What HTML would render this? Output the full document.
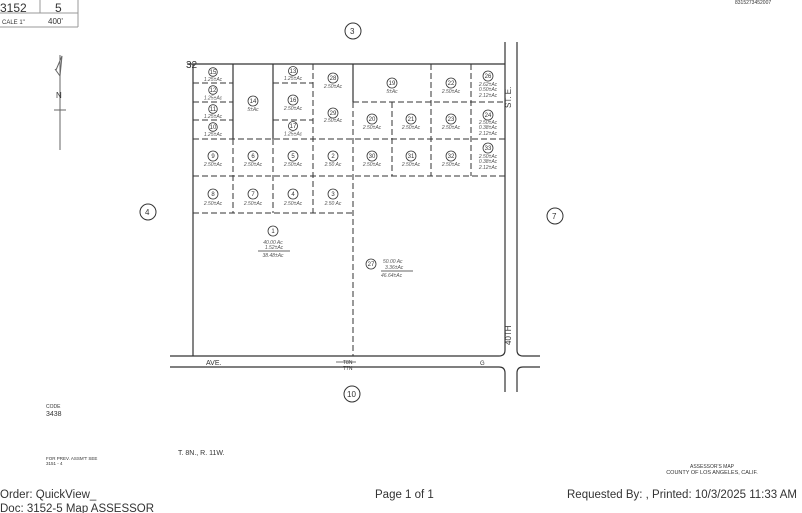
<!DOCTYPE html>
<html><head><meta charset="utf-8"><style>
html,body{margin:0;padding:0;background:#fff;}
svg{display:block}
text{font-family:"Liberation Sans",sans-serif;fill:#333}
.s{font-size:5px;font-style:italic;fill:#555}
.n{font-size:6px;fill:#333}
</style></head><body>
<svg width="802" height="513" viewBox="0 0 802 513" xmlns="http://www.w3.org/2000/svg">
<g stroke="#999" stroke-width="1" fill="none">
<line x1="0" y1="13" x2="78" y2="13"/><line x1="40" y1="0" x2="40" y2="13"/><line x1="78" y1="0" x2="78" y2="27"/>
<line x1="0" y1="27" x2="78" y2="27"/>
</g>
<text x="0" y="12" font-size="12" fill="#222">3152</text>
<text x="55" y="12" font-size="12" fill="#222">5</text>
<text x="2" y="24" font-size="6" fill="#aaa">CALE 1"</text>
<text x="48" y="24" font-size="8" fill="#444">400'</text>
<text x="735" y="4" font-size="5" fill="#bbb">8315273452007</text>

<g stroke="#666" stroke-width="1" fill="none">
<line x1="60" y1="55" x2="60" y2="150"/>
<line x1="54" y1="110" x2="66" y2="110"/>
<polyline points="56,70 62,56 60,76 55,69"/>
</g>
<text x="56" y="98" font-size="8" fill="#444">N</text>

<g stroke="#333" stroke-width="1" fill="#fff">
<circle cx="353" cy="31" r="8"/><circle cx="148" cy="212" r="8"/><circle cx="555" cy="216" r="8"/><circle cx="352" cy="394" r="8"/>
</g>
<text x="350" y="34" font-size="8">3</text>
<text x="145" y="215" font-size="8">4</text>
<text x="552" y="219" font-size="8">7</text>
<text x="347" y="397" font-size="8">10</text>

<g stroke="#333" stroke-width="1.2" fill="none">
<line x1="187" y1="64" x2="505" y2="64"/>
<line x1="193" y1="64" x2="193" y2="356"/>
<line x1="505" y1="42" x2="505" y2="350"/>
<line x1="517" y1="42" x2="517" y2="350"/>
<path d="M170,356 H499 Q505,356 505,350"/>
<path d="M170,367 H499 Q505,367 505,373 V392"/>
<path d="M517,350 Q517,356 523,356 H540"/>
<path d="M517,392 V373 Q517,367 523,367 H540"/>
<line x1="233" y1="64" x2="233" y2="139"/>
<line x1="273" y1="64" x2="273" y2="139"/>
<line x1="353" y1="64" x2="353" y2="102"/>
</g>
<g stroke="#333" stroke-width="1" fill="none" stroke-dasharray="6,3">
<line x1="193" y1="83" x2="233" y2="83"/>
<line x1="193" y1="102" x2="233" y2="102"/>
<line x1="193" y1="120" x2="233" y2="120"/>
<line x1="273" y1="83" x2="313" y2="83"/>
<line x1="273" y1="120" x2="313" y2="120"/>
<line x1="353" y1="102" x2="505" y2="102"/>
<line x1="193" y1="139" x2="505" y2="139"/>
<line x1="193" y1="176" x2="505" y2="176"/>
<line x1="193" y1="213" x2="353" y2="213"/>
<line x1="313" y1="64" x2="313" y2="213"/>
<line x1="233" y1="139" x2="233" y2="213"/>
<line x1="273" y1="139" x2="273" y2="213"/>
<line x1="353" y1="102" x2="353" y2="356"/>
<line x1="392" y1="102" x2="392" y2="176"/>
<line x1="431" y1="64" x2="431" y2="176"/>
<line x1="471" y1="64" x2="471" y2="176"/>
</g>
<text x="186" y="68" font-size="10" fill="#333">32</text>

<g stroke="#333" stroke-width="0.8" fill="none">
<circle cx="213" cy="72" r="4.3"/><circle cx="213" cy="90" r="4.3"/><circle cx="213" cy="109" r="4.3"/><circle cx="213" cy="127" r="4.3"/>
<circle cx="253" cy="101" r="5"/>
<circle cx="293" cy="71" r="4.5"/><circle cx="293" cy="100" r="5"/><circle cx="293" cy="126" r="4.5"/>
<circle cx="333" cy="78" r="5"/><circle cx="333" cy="113" r="5"/>
<circle cx="392" cy="83" r="5"/><circle cx="451" cy="83" r="5"/><circle cx="488" cy="76" r="5"/>
<circle cx="372" cy="119" r="5"/><circle cx="411" cy="119" r="5"/><circle cx="451" cy="119" r="5"/><circle cx="488" cy="115" r="5"/>
<circle cx="213" cy="156" r="5"/><circle cx="253" cy="156" r="5"/><circle cx="293" cy="156" r="5"/><circle cx="333" cy="156" r="5"/>
<circle cx="372" cy="156" r="5"/><circle cx="411" cy="156" r="5"/><circle cx="451" cy="156" r="5"/><circle cx="488" cy="148" r="5"/>
<circle cx="213" cy="194" r="5"/><circle cx="253" cy="194" r="5"/><circle cx="293" cy="194" r="5"/><circle cx="333" cy="194" r="5"/>
<circle cx="273" cy="231" r="5"/><circle cx="371" cy="264" r="5"/>
<line x1="258" y1="251" x2="290" y2="251"/><line x1="381" y1="271" x2="413" y2="271"/>
</g>
<g text-anchor="middle">
<text class="n" x="213" y="74">15</text><text class="s" x="213" y="81">1.25±Ac</text>
<text class="n" x="213" y="92">12</text><text class="s" x="213" y="99.5">1.25±Ac</text>
<text class="n" x="213" y="111">11</text><text class="s" x="213" y="118">1.25±Ac</text>
<text class="n" x="213" y="129">10</text><text class="s" x="213" y="136">1.25±Ac</text>
<text class="n" x="253" y="103">14</text><text class="s" x="253" y="111">5±Ac</text>
<text class="n" x="293" y="73">13</text><text class="s" x="293" y="80">1.25±Ac</text>
<text class="n" x="293" y="102">16</text><text class="s" x="293" y="110">2.50±Ac</text>
<text class="n" x="293" y="128">17</text><text class="s" x="293" y="135.5">1.25±Ac</text>
<text class="n" x="333" y="80">28</text><text class="s" x="333" y="88">2.50±Ac</text>
<text class="n" x="333" y="115">29</text><text class="s" x="333" y="122">2.50±Ac</text>
<text class="n" x="392" y="85">19</text><text class="s" x="392" y="93">5±Ac</text>
<text class="n" x="451" y="85">22</text><text class="s" x="451" y="93">2.50±Ac</text>
<text class="n" x="488" y="78">26</text><text class="s" x="488" y="86">2.62±Ac</text><text class="s" x="488" y="91">0.50±Ac</text><text class="s" x="488" y="97">2.12±Ac</text>
<text class="n" x="372" y="121">20</text><text class="s" x="372" y="129">2.50±Ac</text>
<text class="n" x="411" y="121">21</text><text class="s" x="411" y="129">2.50±Ac</text>
<text class="n" x="451" y="121">23</text><text class="s" x="451" y="129">2.50±Ac</text>
<text class="n" x="488" y="117">24</text><text class="s" x="488" y="124">2.50±Ac</text><text class="s" x="488" y="129">0.38±Ac</text><text class="s" x="488" y="135">2.12±Ac</text>
<text class="n" x="213" y="158">9</text><text class="s" x="213" y="166">2.50±Ac</text>
<text class="n" x="253" y="158">6</text><text class="s" x="253" y="166">2.50±Ac</text>
<text class="n" x="293" y="158">5</text><text class="s" x="293" y="166">2.50±Ac</text>
<text class="n" x="333" y="158">2</text><text class="s" x="333" y="166">2.50 Ac</text>
<text class="n" x="372" y="158">30</text><text class="s" x="372" y="166">2.50±Ac</text>
<text class="n" x="411" y="158">31</text><text class="s" x="411" y="166">2.50±Ac</text>
<text class="n" x="451" y="158">32</text><text class="s" x="451" y="166">2.50±Ac</text>
<text class="n" x="488" y="150">33</text><text class="s" x="488" y="158">2.50±Ac</text><text class="s" x="488" y="163">0.38±Ac</text><text class="s" x="488" y="169">2.12±Ac</text>
<text class="n" x="213" y="196">8</text><text class="s" x="213" y="205">2.50±Ac</text>
<text class="n" x="253" y="196">7</text><text class="s" x="253" y="205">2.50±Ac</text>
<text class="n" x="293" y="196">4</text><text class="s" x="293" y="205">2.50±Ac</text>
<text class="n" x="333" y="196">3</text><text class="s" x="333" y="205">2.50 Ac</text>
<text class="n" x="273" y="233">1</text>
<text class="s" x="273" y="244">40.00 Ac</text><text class="s" x="274" y="249">1.52±Ac</text><text class="s" x="273" y="257">38.48±Ac</text>
<text class="n" x="371" y="266">27</text>
</g>
<text class="s" x="383" y="263">50.00 Ac</text><text class="s" x="385" y="269">3.36±Ac</text><text class="s" x="381" y="277">46.64±Ac</text>

<text x="511" y="108" font-size="8" transform="rotate(-90 511 108)">ST. E.</text>
<text x="511" y="345" font-size="8" transform="rotate(-90 511 345)">40TH</text>
<text x="206" y="365" font-size="7">AVE.</text>
<text x="480" y="365" font-size="6">G</text>
<text x="343" y="364" font-size="5">T8N</text>
<text x="343" y="370" font-size="5">T7N</text>
<line x1="336" y1="362" x2="356" y2="362" stroke="#444" stroke-width="0.7"/>

<text x="46" y="408" font-size="5" fill="#999">CODE</text>
<text x="46" y="416" font-size="7" fill="#555">3438</text>
<text x="178" y="455" font-size="7" fill="#333">T. 8N., R. 11W.</text>
<text x="46" y="460" font-size="4.5" fill="#aaa">FOR PREV. ASSM'T SEE</text>
<text x="46" y="465" font-size="4.5" fill="#555">3151 - 4</text>
<text x="712" y="468" font-size="5" fill="#999" text-anchor="middle">ASSESSOR'S MAP</text>
<text x="712" y="474" font-size="5.5" fill="#999" text-anchor="middle">COUNTY OF LOS ANGELES, CALIF.</text>

<text x="0" y="498" font-size="11.5" fill="#000">Order: QuickView_</text>
<text x="375" y="498" font-size="11.5" fill="#000">Page 1 of 1</text>
<text x="567" y="498" font-size="11.5" fill="#000">Requested By:   , Printed: 10/3/2025 11:33 AM</text>
<text x="0" y="512" font-size="11.5" fill="#000">Doc: 3152-5 Map ASSESSOR</text>
</svg>
</body></html>
